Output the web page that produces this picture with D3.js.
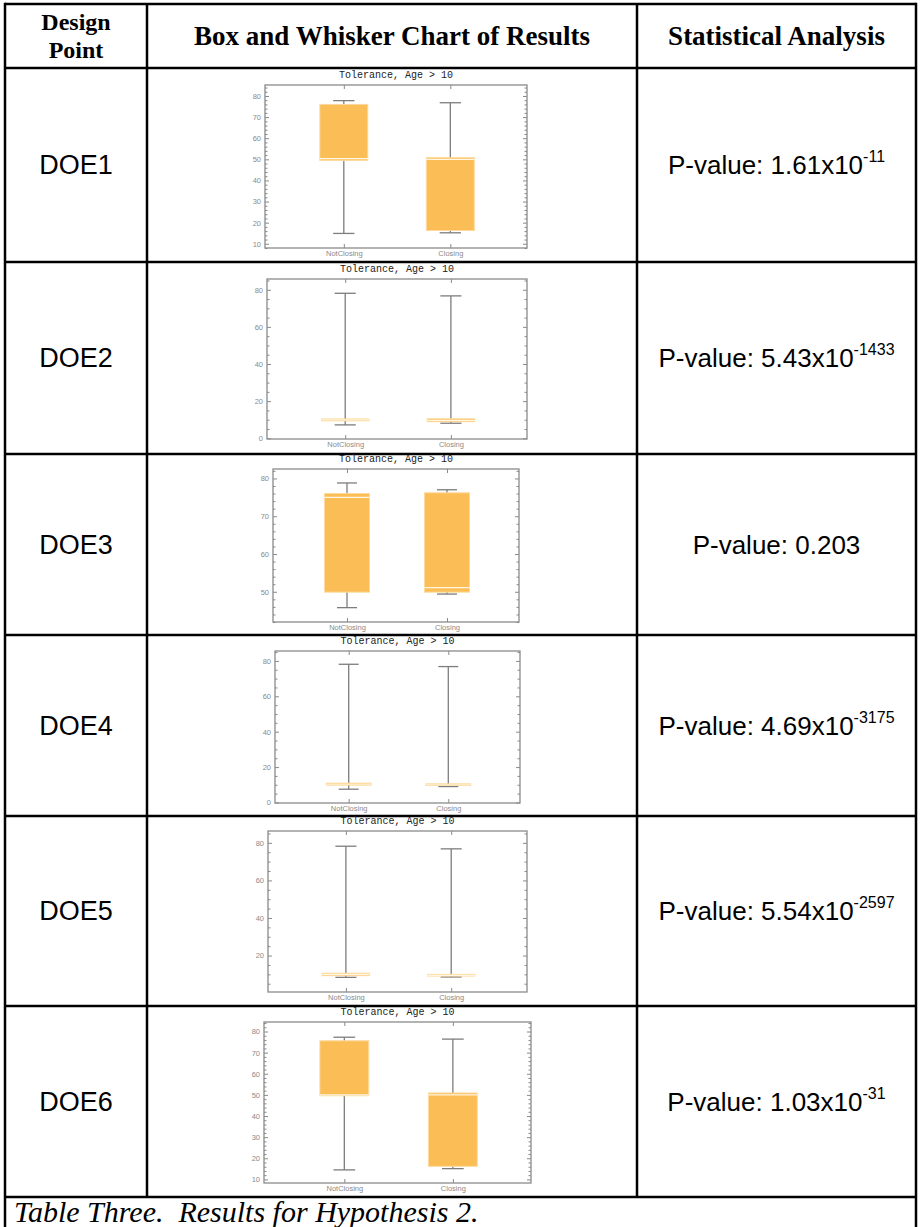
<!DOCTYPE html>
<html>
<head>
<meta charset="utf-8">
<script src="https://cdn.jsdelivr.net/npm/d3@7"></script>
<style>
body { margin: 0; background: #fff; }
svg { display: block; }
</style>
</head>
<body>
<svg width="920" height="1227"></svg>
<script>
// ---- data ----
const designPoints = ['DOE1', 'DOE2', 'DOE3', 'DOE4', 'DOE5', 'DOE6'];
const categories = ['NotClosing', 'Closing'];
const chartTitle = 'Tolerance, Age > 10';

// [min, q1, median, q3, max]
const notClosingStats = [
	[14.9, 49.5, 50.3, 76.0, 77.8],
	[7.2, 9.4, 9.9, 10.4, 78.1],
	[45.8, 49.9, 75.0, 76.0, 78.8],
	[7.5, 9.8, 10.3, 10.9, 78.1],
	[8.4, 9.3, 10.0, 10.6, 78.2],
	[14.5, 49.6, 50.0, 75.6, 77.3],
];
const closingStats = [
	[15.2, 16.3, 50.0, 50.8, 76.8],
	[8.1, 8.9, 9.6, 10.5, 76.7],
	[49.4, 49.9, 51.1, 76.2, 77.0],
	[9.0, 9.6, 10.0, 10.5, 76.8],
	[8.6, 9.1, 9.5, 10.0, 76.8],
	[15.1, 16.2, 50.0, 50.9, 76.4],
];

const yDomains = [[8, 85.2], [-0.4, 85.8], [42, 82.5], [-0.3, 85.6], [0.6, 86.3], [8.3, 84.5]];
const yMajorStep = [10, 20, 10, 20, 20, 10];
const yMinorStep = [2, 5, 2, 5, 5, 2];

const pMantissa = ['1.61x10', '5.43x10', '0.203', '4.69x10', '5.54x10', '1.03x10'];
const pExponent = ['-11', '-1433', '', '-3175', '-2597', '-31'];

const headers = [['Design', 'Point'], ['Box and Whisker Chart of Results'], ['Statistical Analysis']];
const caption = 'Table Three.  Results for Hypothesis 2.';

// ---- layout ----
const svg = d3.select('svg');
const cols = [5, 147, 637, 916];
const rows = [4, 68, 262, 454, 635, 816, 1006, 1197];
const frames = [
	{ x0: 265, x1: 527, top: 17, bottom: 14 },
	{ x0: 267, x1: 527, top: 17, bottom: 15 },
	{ x0: 273, x1: 519, top: 15, bottom: 13 },
	{ x0: 275, x1: 520, top: 16, bottom: 13 },
	{ x0: 268, x1: 527, top: 15, bottom: 14 },
	{ x0: 264, x1: 531, top: 16, bottom: 14 },
];
const xDomain = [0.26, 2.72];
const boxHalf = 0.225;
const capHalf = 0.1;

const serif = "'Liberation Serif', 'Times New Roman', serif";
const sans = "'Liberation Sans', Arial, Helvetica, sans-serif";
const mono = "'Liberation Mono', 'Courier New', monospace";

// table grid
const grid = svg.append('g').attr('stroke', '#000').attr('stroke-width', 2.5);
rows.forEach((r) => {
	grid.append('line').attr('x1', cols[0]).attr('x2', cols[3]).attr('y1', r).attr('y2', r);
});
[cols[0], cols[3]].forEach((c) => {
	grid.append('line').attr('x1', c).attr('x2', c).attr('y1', rows[0] - 1.25).attr('y2', 1227);
});
[cols[1], cols[2]].forEach((c) => {
	grid.append('line').attr('x1', c).attr('x2', c).attr('y1', rows[0]).attr('y2', rows[rows.length - 1]);
});

// header
headers.forEach((lines, i) => {
	const cx = (cols[i] + cols[i + 1]) / 2;
	if (lines.length === 2) {
		lines.forEach((ln, j) => {
			svg.append('text')
				.attr('x', cx)
				.attr('y', 30 + j * 28)
				.attr('text-anchor', 'middle')
				.attr('font-family', serif)
				.attr('font-weight', 'bold')
				.attr('font-size', 24)
				.text(ln);
		});
	} else {
		svg.append('text')
			.attr('x', cx)
			.attr('y', 45)
			.attr('text-anchor', 'middle')
			.attr('font-family', serif)
			.attr('font-weight', 'bold')
			.attr('font-size', 27)
			.text(lines[0]);
	}
});

// caption
svg.append('text')
	.attr('x', 14)
	.attr('y', 1222)
	.attr('font-family', serif)
	.attr('font-style', 'italic')
	.attr('font-size', 30)
	.attr('xml:space', 'preserve')
	.text(caption);

// rows
designPoints.forEach((name, i) => {
	const rTop = rows[i + 1];
	const rBot = rows[i + 2];
	const mid = (rTop + rBot) / 2;

	svg.append('text')
		.attr('x', (cols[0] + cols[1]) / 2)
		.attr('y', mid + 9)
		.attr('text-anchor', 'middle')
		.attr('font-family', sans)
		.attr('font-size', 27)
		.text(name);

	const p = svg.append('text')
		.attr('x', (cols[2] + cols[3]) / 2)
		.attr('y', mid + 9)
		.attr('text-anchor', 'middle')
		.attr('font-family', sans)
		.attr('font-size', 26);
	p.append('tspan').text('P-value: ' + pMantissa[i]);
	if (pExponent[i]) {
		p.append('tspan').attr('dy', -12).attr('font-size', 16).text(pExponent[i]);
	}

	drawChart(i, rTop, rBot);
});

function drawChart(i, rTop, rBot) {
	const f = frames[i];
	const y0 = rTop + f.top;
	const y1 = rBot - f.bottom;
	const x = d3.scaleLinear().domain(xDomain).range([f.x0, f.x1]);
	const y = d3.scaleLinear().domain(yDomains[i]).range([y1, y0]);
	const g = svg.append('g');

	const [lo, hi] = yDomains[i];
	const major = d3.range(Math.ceil(lo / yMajorStep[i]) * yMajorStep[i], hi, yMajorStep[i]);
	const minor = d3.range(Math.ceil(lo / yMinorStep[i]) * yMinorStep[i], hi, yMinorStep[i])
		.filter((v) => v % yMajorStep[i] !== 0);

	g.append('text')
		.attr('x', (f.x0 + f.x1) / 2)
		.attr('y', y0 - 7)
		.attr('text-anchor', 'middle')
		.attr('font-family', mono)
		.attr('font-size', 10)
		.attr('fill', '#222')
		.text(chartTitle);

	const styleAxis = (sel) => {
		sel.select('.domain').remove();
		sel.selectAll('line').attr('stroke', '#8a8a8a');
		sel.selectAll('text')
			.attr('fill', '#8a8a8a')
			.attr('font-family', sans)
			.attr('font-size', 7.5);
	};

	g.append('g').attr('transform', `translate(${f.x0},0)`)
		.call(d3.axisLeft(y).tickValues(major).tickSize(-4).tickPadding(4).tickFormat(d3.format('d')))
		.call(styleAxis);
	g.append('g').attr('transform', `translate(${f.x0},0)`)
		.call(d3.axisLeft(y).tickValues(minor).tickSize(-2.5).tickFormat(''))
		.call(styleAxis);
	g.append('g').attr('transform', `translate(${f.x1},0)`)
		.call(d3.axisRight(y).tickValues(major).tickSize(-4).tickFormat(''))
		.call(styleAxis);
	g.append('g').attr('transform', `translate(${f.x1},0)`)
		.call(d3.axisRight(y).tickValues(minor).tickSize(-2.5).tickFormat(''))
		.call(styleAxis);
	g.append('g').attr('transform', `translate(0,${y1})`)
		.call(d3.axisBottom(x).tickValues([1, 2]).tickSize(-4).tickPadding(3).tickFormat((d) => categories[d - 1]))
		.call(styleAxis);
	g.append('g').attr('transform', `translate(0,${y0})`)
		.call(d3.axisTop(x).tickValues([1, 2]).tickSize(-4).tickFormat(''))
		.call(styleAxis);

	g.append('rect')
		.attr('x', f.x0)
		.attr('y', y0)
		.attr('width', f.x1 - f.x0)
		.attr('height', y1 - y0)
		.attr('fill', 'none')
		.attr('stroke', '#8a8a8a')
		.attr('stroke-width', 1.3);

	const stats = [notClosingStats[i], closingStats[i]];
	stats.forEach((s, k) => {
		const c = k + 1;
		const [mn, q1, md, q3, mx] = s;
		const b = g.append('g');
		b.append('line')
			.attr('x1', x(c)).attr('x2', x(c))
			.attr('y1', y(mn)).attr('y2', y(mx))
			.attr('stroke', '#7d7d7d').attr('stroke-width', 1.3);
		[mn, mx].forEach((v) => {
			b.append('line')
				.attr('x1', x(c - capHalf)).attr('x2', x(c + capHalf))
				.attr('y1', y(v)).attr('y2', y(v))
				.attr('stroke', '#7d7d7d').attr('stroke-width', 1.3);
		});
		b.append('rect')
			.attr('x', x(c - boxHalf))
			.attr('width', x(c + boxHalf) - x(c - boxHalf))
			.attr('y', y(q3))
			.attr('height', y(q1) - y(q3))
			.attr('fill', '#fbbd55')
			.attr('stroke', '#fdd99c')
			.attr('stroke-width', 1);
		b.append('line')
			.attr('x1', x(c - boxHalf)).attr('x2', x(c + boxHalf))
			.attr('y1', y(md)).attr('y2', y(md))
			.attr('stroke', '#fff6e3').attr('stroke-width', 1.2);
	});
}
</script>
</body>
</html>
